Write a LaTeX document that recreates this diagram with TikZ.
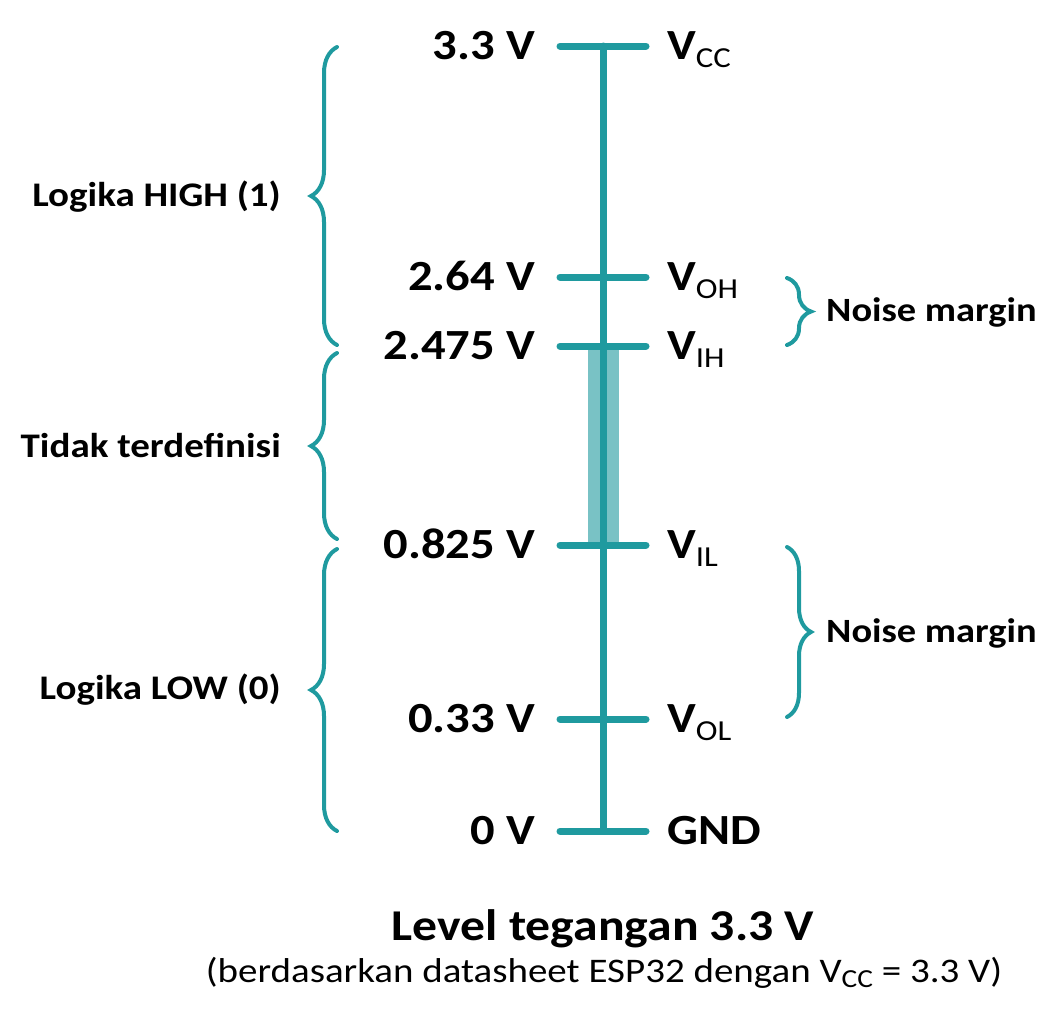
\documentclass[tikz,border=0pt]{standalone}
\usepackage{fontspec}
\setmainfont{Carlito}[FakeStretch=1.13]
\usetikzlibrary{decorations.pathreplacing}
\definecolor{tl}{HTML}{1F9A9F}
\newcommand{\sbs}[1]{\raisebox{-0.2em}{\fontsize{29}{29}\selectfont\mdseries #1}}
\begin{document}
\begin{tikzpicture}[x=1pt,y=-1pt,
  axisline/.style={draw=tl,line width=7pt,line cap=round},
  bracestyle/.style={draw=tl,line width=4pt,line cap=round,decorate,decoration={brace,amplitude=26pt,aspect=0.5}},
  vallbl/.style={anchor=base east,inner sep=0pt,font=\fontsize{43}{43}\selectfont\bfseries},
  namelbl/.style={anchor=base west,inner sep=0pt,font=\fontsize{43}{43}\selectfont\bfseries},
  sidelbl/.style={anchor=east,inner sep=0pt,font=\fontsize{34.5}{34.5}\selectfont\bfseries},
  nmlbl/.style={anchor=west,inner sep=0pt,font=\fontsize{34}{34}\selectfont\bfseries}]
\useasboundingbox (0,0) rectangle (1058,1013);
% levels
\coordinate (tvcc) at (603,46);
\coordinate (tvoh) at (603,277);
\coordinate (tvih) at (603,346);
\coordinate (tvil) at (603,545);
\coordinate (tvol) at (603,719);
\coordinate (tgnd) at (603,831);
% shaded undefined region
\fill[tl!60!white] (588,346) rectangle (619,545);
% axis
\draw[axisline] (tvcc) -- (tgnd);
\foreach \c in {tvcc,tvoh,tvih,tvil,tvol,tgnd}
  \draw[axisline] ([xshift=-43pt]\c) -- ([xshift=43pt]\c);
% value labels
\node[vallbl] (v1) at (535,59) {3.3 V};
\node[vallbl] (v2) at (535,290) {2.64 V};
\node[vallbl] (v3) at (535,359) {2.475 V};
\node[vallbl] (v4) at (535,558) {0.825 V};
\node[vallbl] (v5) at (535,732) {0.33 V};
\node[vallbl] (v6) at (535,844) {0 V};
% name labels
\node[namelbl] (n1) at (667,59) {V\sbs{CC}};
\node[namelbl] (n2) at (667,290) {V\sbs{OH}};
\node[namelbl] (n3) at (667,359) {V\sbs{IH}};
\node[namelbl] (n4) at (667,558) {V\sbs{IL}};
\node[namelbl] (n5) at (667,732) {V\sbs{OL}};
\node[namelbl] (n6) at (667,844) {GND};
% left braces
\draw[bracestyle] (337,345) -- (337,47);
\draw[bracestyle] (337,539) -- (337,353);
\draw[bracestyle] (337,831) -- (337,549);
\node[sidelbl] (l1) at (281,197) {Logika HIGH (1)};
\node[sidelbl] (l2) at (281,445) {Tidak terdefinisi};
\node[sidelbl] (l3) at (281,690) {Logika LOW (0)};
% right braces
\draw[bracestyle,decoration={brace,amplitude=24pt}] (787,278) -- (787,345);
\draw[bracestyle,decoration={brace,amplitude=24pt}] (787,547) -- (787,717);
\node[nmlbl] (r1) at (826,312) {Noise margin};
\node[nmlbl] (r2) at (826,633) {Noise margin};
% title
\node[anchor=base,inner sep=0pt,font=\fontsize{44}{44}\selectfont\bfseries] (title) at (603,940) {Level tegangan 3.3 V};
\node[anchor=base,inner sep=0pt,font=\fontsize{34.5}{34.5}\selectfont] (sub) at (604,982) {(berdasarkan datasheet ESP32 dengan V{\fontsize{26}{26}\selectfont\raisebox{-0.2em}{CC}} = 3.3 V)};
\end{tikzpicture}
\end{document}
